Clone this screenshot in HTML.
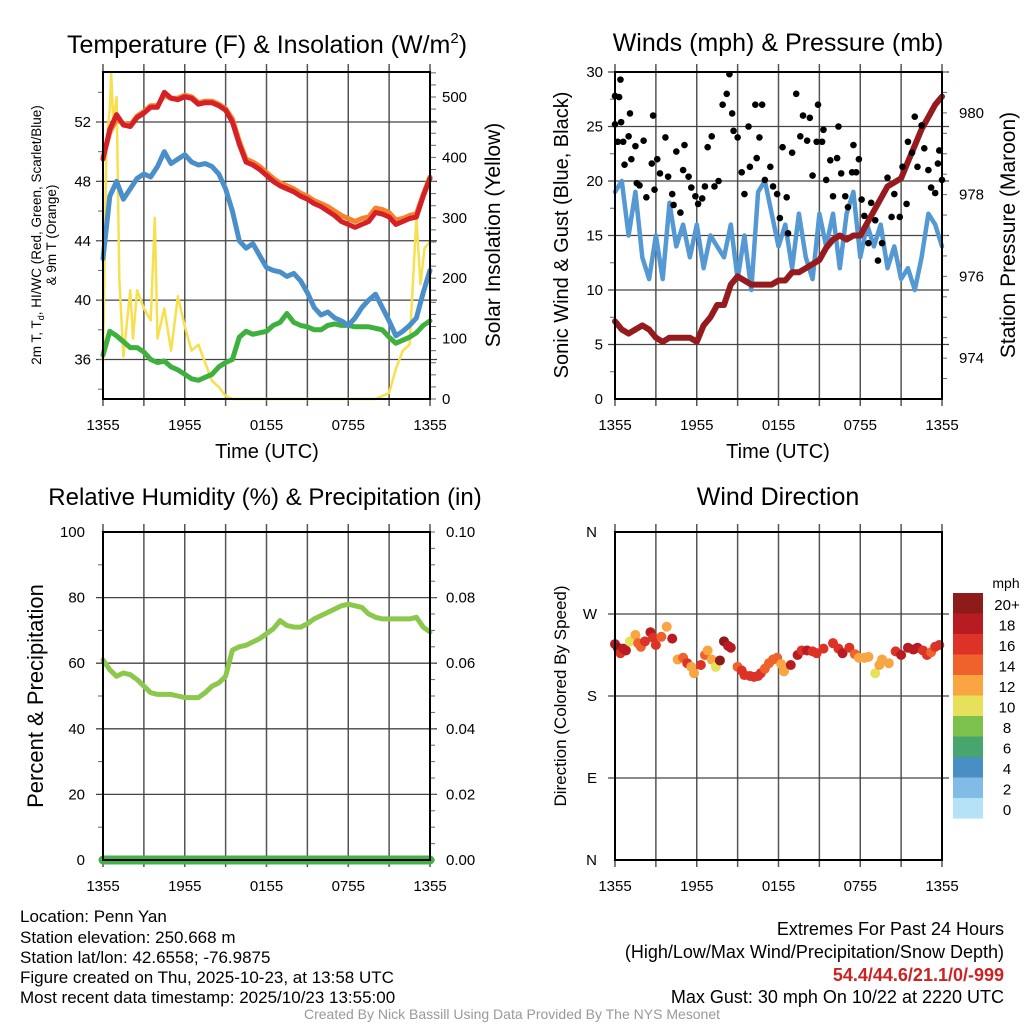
<!DOCTYPE html>
<html><head><meta charset="utf-8"><style>
html,body{margin:0;padding:0;background:#fff;}
svg{display:block;font-family:"Liberation Sans",sans-serif;}
</style></head><body>
<svg id="chart" width="1024" height="1024" viewBox="0 0 1024 1024" xmlns="http://www.w3.org/2000/svg">
<g id="titles" font-size="25" text-anchor="middle" fill="#000">
<text x="267" y="53">Temperature (F) &amp; Insolation (W/m<tspan font-size="15" dy="-10">2</tspan><tspan dy="10">)</tspan></text>
<text x="778" y="51">Winds (mph) &amp; Pressure (mb)</text>
<text x="265" y="505" font-size="24">Relative Humidity (%) &amp; Precipitation (in)</text>
<text x="778" y="505">Wind Direction</text>
</g>
<g id="layer"></g>
<g font-size="17" fill="#000">
<text x="20" y="922">Location: Penn Yan</text>
<text x="20" y="943">Station elevation: 250.668 m</text>
<text x="20" y="963">Station lat/lon: 42.6558; -76.9875</text>
<text x="20" y="983">Figure created on Thu, 2025-10-23, at 13:58 UTC</text>
<text x="20" y="1003">Most recent data timestamp: 2025/10/23 13:55:00</text>
</g>
<g font-size="18" fill="#000" text-anchor="end">
<text x="1004" y="935">Extremes For Past 24 Hours</text>
<text x="1004" y="958">(High/Low/Max Wind/Precipitation/Snow Depth)</text>
<text x="1004" y="981" fill="#cc2222" font-weight="bold">54.4/44.6/21.1/0/-999</text>
<text x="1004" y="1003">Max Gust: 30 mph On 10/22 at 2220 UTC</text>
</g>
<text x="512" y="1019" font-size="14" fill="#999" text-anchor="middle">Created By Nick Bassill Using Data Provided By The NYS Mesonet</text>
</svg>
<script>
// ---------- data ----------
const hours = [0,0.5,1,1.5,2,2.5,3,3.5,4,4.5,5,5.5,6,6.5,7,7.5,8,8.5,9,9.5,10,10.5,11,11.5,12,12.5,13,13.5,14,14.5,15,15.5,16,16.5,17,17.5,18,18.5,19,19.5,20,20.5,21,21.5,22,22.5,23,23.5,24];
const tempRed = [49.5,51.5,52.5,51.8,51.7,52.3,52.6,53.0,53.0,54.0,53.6,53.5,53.7,53.6,53.2,53.3,53.3,53.1,52.8,52.0,50.5,49.3,49.1,48.8,48.4,48.0,47.7,47.5,47.3,47.0,46.8,46.5,46.3,46.0,45.7,45.3,45.1,44.9,45.1,45.3,45.9,45.8,45.6,45.1,45.3,45.5,45.6,47.0,48.2];
const temp9m = [49.6,51.3,52.2,51.9,51.8,52.4,52.7,53.1,53.1,53.8,53.6,53.6,53.8,53.7,53.3,53.4,53.4,53.2,52.9,52.2,50.7,49.5,49.3,49.0,48.6,48.2,47.9,47.7,47.5,47.2,47.0,46.7,46.5,46.3,46.0,45.7,45.5,45.3,45.5,45.6,46.2,46.1,45.9,45.4,45.5,45.7,45.8,47.1,48.3];
const tempBlue = [42.8,47.0,48.0,46.8,47.5,48.2,48.5,48.3,49.0,50.0,49.2,49.5,49.8,49.3,49.1,49.2,49.0,48.5,47.5,46.0,44.0,43.5,43.8,43.0,42.2,42.0,41.9,41.6,41.8,41.3,40.5,39.5,39.0,39.2,38.8,38.6,38.3,38.8,39.5,40.0,40.4,39.5,38.6,37.6,37.9,38.3,38.8,40.5,42.0];
const dewGreen = [36.3,37.9,37.6,37.2,36.8,36.8,36.5,36.0,35.8,35.9,35.5,35.3,35.0,34.7,34.6,34.8,35.0,35.5,35.8,36.0,37.5,37.9,37.7,37.8,37.9,38.3,38.5,39.1,38.5,38.3,38.2,38.0,38.0,38.3,38.4,38.3,38.3,38.2,38.2,38.2,38.1,38.0,37.5,37.1,37.3,37.5,37.8,38.3,38.6];
const solarHours = [0,0.25,0.5,0.6,0.75,1,1.2,1.5,2,2.2,2.5,3,3.5,3.8,4,4.5,5,5.5,6,6.5,7,7.5,8,8.5,9,9.5,12,16,20,21,21.5,22,22.5,23,23.3,23.6,24];
const solarValues = [60,420,480,540,460,500,200,70,180,100,180,150,130,300,100,150,80,170,120,80,90,60,30,20,5,0,0,0,0,10,50,80,90,300,190,250,260];
const windBlue = [19,20,15,19,13,11,15,11,18,14,16,13,16,12,15,14,13,16,11,15,10,19,20,17,14,16,12,17,13,11,17,14,17,12,17,19,13,16,14,16,12,14,11,12,10,13,17,16,14];
const pressure = [974.9,974.7,974.6,974.7,974.8,974.7,974.5,974.4,974.5,974.5,974.5,974.5,974.4,974.8,975.0,975.3,975.3,975.8,976.0,975.9,975.8,975.8,975.8,975.8,975.9,975.9,976.1,976.1,976.2,976.3,976.4,976.7,976.9,977.0,976.9,977.0,977.0,977.3,977.6,977.9,978.2,978.3,978.4,978.8,979.2,979.6,979.9,980.2,980.4];
const gustHours = [0,0,0.4,0.3,0.2,0.45,0.7,0.6,1,1.1,1.2,1.5,1.6,1.8,2.1,2.3,2.7,2.8,2.9,3.1,3.3,3.7,3.9,4.2,4.3,4.5,4.8,5,5.1,5.4,5.6,5.9,6.1,6.4,6.6,6.8,7.1,7.3,7.6,7.9,8.2,8.4,8.6,8.7,9,9.3,9.5,9.8,9.9,10.3,10.4,10.6,10.8,11,11.4,11.6,11.9,12.1,12.3,12.6,12.7,13,13.3,13.6,13.8,14.1,14.3,14.5,14.8,14.9,15.2,15.3,15.5,15.8,16,16.3,16.4,16.6,16.9,17.1,17.4,17.5,17.7,17.9,18.1,18.3,18.6,18.8,19.1,19.3,19.6,20,20.3,20.5,20.9,21.1,21.4,21.5,21.8,22,22.2,22.5,22.7,23,23.2,23.5,23.7,23.8,24];
const gustValues = [25.2,27.8,29.3,27.7,23.6,25.4,21.5,23.6,24.1,26.2,22,23.2,19.8,19.6,23.7,18.5,21.6,26,19.2,22,20.7,24,20.4,18.8,17.8,22.7,17.1,21,23.3,20.4,19.4,18.6,17.9,18.4,19.5,23.1,24.1,19.5,20,27,28,29.8,26.2,24.6,24,20.8,18.8,25,21.3,27,22.1,24,27,20.1,21.3,19.5,18.8,16.6,23.1,18.5,15.2,22.6,28,24.1,26,23.7,25.8,20.5,23.6,27,23.6,24.7,20.1,21.9,18.6,22.1,25,20.7,18.6,17.6,20.8,23.3,20.8,22,18.3,16.8,14.3,18,16.4,12.7,14.3,20.3,16.7,18.8,16.7,21.3,17.9,23.6,22.6,25.9,21.3,25.1,23,21,19.4,18.9,21.6,22.8,20.1];
const rh = [61,58,56,57,56.5,55,53,51,50.5,50.5,50.5,50,49.5,49.5,49.5,51,53,54,56,64,65,65.5,66.5,67.5,69,70.5,73,71.5,71,71,72,73.5,74.5,75.5,76.5,77.5,78,77.5,77,75,74,73.5,73.5,73.5,73.5,73.5,74,71,69.5];
const precip = [0,0,0,0,0,0,0,0,0,0,0,0,0,0,0,0,0,0,0,0,0,0,0,0,0,0,0,0,0,0,0,0,0,0,0,0,0,0,0,0,0,0,0,0,0,0,0,0,0];
const dirHours = [0,0.2,0.4,0.6,0.8,1.1,1.5,1.7,1.9,2.2,2.6,2.8,3,3.4,3.8,4.2,4.6,5,5.3,5.6,5.8,6.3,6.6,6.8,7.1,7.4,7.7,8,8.3,8.5,9,9.3,9.5,9.9,10.2,10.5,10.7,11,11.3,11.6,11.9,12.2,12.4,12.9,13.4,13.7,14.1,14.5,14.8,15.3,16,16.4,16.7,17.2,17.6,17.9,18.3,18.6,19.1,19.4,19.6,20.1,20.6,21,21.5,21.9,22.2,22.6,22.9,23.2,23.5,23.8];
const dirValues = [237,233,227,232,230,240,247,238,234,240,250,244,236,245,256,243,220,222,216,212,205,214,225,230,220,212,219,240,235,233,212,208,203,202,201,202,205,210,216,220,222,215,207,214,225,230,230,229,227,232,238,232,227,233,226,222,222,223,205,214,220,216,229,225,233,231,233,230,225,228,234,236];
const dirSpeeds = [19,20,17,18,19,10,13,15,14,17,19,17,16,14,13,18,13,15,16,12,12,16,14,12,12,10,20,20,18,18,14,16,17,17,17,16,16,15,14,14,14,13,12,18,19,17,18,17,16,16,16,17,18,16,15,12,12,12,10,12,12,13,16,18,19,18,18,17,16,15,17,16];
const xTickLabels = ["1355","1955","0155","0755","1355"];
const tempTicks = [36,40,44,48,52];
const solarTicks = [0,100,200,300,400,500];
const windTicks = [0,5,10,15,20,25,30];
const pressTicks = [974,976,978,980];
const rhTicks = [0,20,40,60,80,100];
const precipTicks = ["0.00","0.02","0.04","0.06","0.08","0.10"];
const dirLabels = ["N","E","S","W","N"];
const cbLabels = ["20+","18","16","14","12","10","8","6","4","2","0"];
const cbColors = ["#8f1a1a","#b81c22","#dc3326","#f0622b","#f8a542","#e7e05b","#7dc14d","#47a66d","#4a8fc4","#80bce6","#b5e2f6"];

// ---------- helpers ----------
const NS="http://www.w3.org/2000/svg";
const layer=document.getElementById('layer');
function mk(tag,attrs,parent){const e=document.createElementNS(NS,tag);for(const k in attrs)e.setAttribute(k,attrs[k]);(parent||layer).appendChild(e);return e;}
function lin(d0,d1,r0,r1){return v=>r0+(v-d0)*(r1-r0)/(d1-d0);}
function txt(x,y,s,attrs,parent){const t=mk('text',Object.assign({x:x,y:y},attrs),parent);t.textContent=s;return t;}

const L=[103,430], R=[615,942];
const TOP=[72,399], BOT=[532,860];

function frame(px,py,grpName,hGrid){
  const g=mk('g',{});
  
  
  const x=lin(0,24,px[0],px[1]);
  for(let h=0;h<=24;h+=3){
    const l=mk('line',{x1:x(h),x2:x(h),y1:py[0]-8,y2:py[1]+7,stroke:'#555','stroke-width':1.5},g);
    
    
  }
  hGrid.forEach(yy=>{
    const l=mk('line',{x1:px[0]-7,x2:px[1]+7,y1:yy,y2:yy,stroke:'#444','stroke-width':1.3},g);
    
    
  });
  xTickLabels.forEach((s,i)=>{
    const t=txt(x(i*6),py[1]+31,s,{'font-size':15,'text-anchor':'middle'},g);
    
    
  });
  return {g,x};
}
function border(px,py,g){
  const r=mk('rect',{x:px[0],y:py[0],width:px[1]-px[0],height:py[1]-py[0],fill:'none',stroke:'#000','stroke-width':2},g);
  
  
}
function pathOf(xs,ys,fx,fy){return xs.map((h,i)=>(i?'L':'M')+fx(h).toFixed(1)+','+fy(ys[i]).toFixed(1)).join('');}
function line(d,color,w,name,g){
  const p=mk('path',{d:d,fill:'none',stroke:color,'stroke-width':w,'stroke-linejoin':'round','stroke-linecap':'round'},g);
  
  
  return p;
}
function minorTicks(side,px,vals,fy,len,g){
  vals.forEach(v=>{const yy=fy(v);const x0=side==='l'?px[0]:px[1];const dx=side==='l'?-len:len;
    const l=mk('line',{x1:x0,x2:x0+dx,y1:yy,y2:yy,stroke:'#666','stroke-width':1},g);
    
    });
}

// ---------- panel 1: temperature ----------
(function(){
  const yT=lin(36,52,359.5,122), yS=lin(0,500,399,97);
  const f=frame(L,TOP,'temperature-panel',tempTicks.map(yT));
  const g=f.g, x=f.x;
  const minT=[];for(let v=34;v<=54;v+=2)minT.push(v);
  minorTicks('l',L,minT.filter(v=>yT(v)>=TOP[0]&&yT(v)<=TOP[1]),yT,5,g);
  const minS=[];for(let v=0;v<=540;v+=20)minS.push(v);
  minorTicks('r',L,minS,yS,6,g);
  tempTicks.forEach(v=>{const t=txt(L[0]-12,yT(v)+5,String(v),{'font-size':15,'text-anchor':'end'},g);
    });
  solarTicks.forEach(v=>{const t=txt(L[1]+12,yS(v)+5,String(v),{'font-size':15},g);
    });
  line(pathOf(solarHours,solarValues,x,yS),'#f7e04f',2.5,'solar-insolation-line',g);
  line(pathOf(hours,dewGreen,x,yT),'#3db03d',5,'dewpoint-line',g);
  line(pathOf(hours,tempBlue,x,yT),'#4a8fc9',5,'heat-index-wind-chill-line',g);
  line(pathOf(hours,temp9m,x,yT),'#f5812a',5,'temp-9m-line',g);
  line(pathOf(hours,tempRed,x,yT),'#d62027',5,'temp-2m-line',g);
  border(L,TOP,g);
  const a=txt(0,0,'2m T, T',{'font-size':13.5,'text-anchor':'middle',transform:'translate(41,235) rotate(-90)'},g);
  const s1=mk('tspan',{'font-size':9,dy:3},a);s1.textContent='d';
  const s2=mk('tspan',{dy:-3},a);s2.textContent=', HI/WC (Red, Green, Scarlet/Blue)';
  
  const b=txt(0,0,'& 9m T (Orange)',{'font-size':13.5,'text-anchor':'middle',transform:'translate(56,235) rotate(-90)'},g);
  
  const c=txt(0,0,'Solar Insolation (Yellow)',{'font-size':21,'text-anchor':'middle',transform:'translate(500,235) rotate(-90)'},g);
  
  const d=txt(267,458,'Time (UTC)',{'font-size':20,'text-anchor':'middle'},g);
  
})();

// ---------- panel 2: winds ----------
(function(){
  const yW=lin(0,30,399,72), yP=lin(973,981,399,72);
  const f=frame(R,TOP,'winds-panel',windTicks.filter(v=>v>0).map(yW));
  const g=f.g, x=f.x;
  const minW=[];for(let v=2.5;v<30;v+=5)minW.push(v);
  minorTicks('l',R,minW,yW,5,g);
  const minP=[];for(let v=973.5;v<=981;v+=0.5)minP.push(v);
  minorTicks('r',R,minP,yP,5,g);
  windTicks.forEach(v=>{const t=txt(R[0]-12,yW(v)+5,String(v),{'font-size':15,'text-anchor':'end'},g);
    });
  pressTicks.forEach(v=>{const t=txt(R[1]+17,yP(v)+5,String(v),{'font-size':15},g);
    });
  line(pathOf(hours,windBlue,x,yW),'#5499d3',4.5,'sonic-wind-line',g);
  line(pathOf(hours,pressure,x,yP),'#961b1e',6,'station-pressure-line',g);
  gustHours.forEach((h,i)=>{
    const c=mk('circle',{cx:x(h),cy:yW(gustValues[i]),r:3.3,fill:'#000'},g);
    
    
  });
  border(R,TOP,g);
  const a=txt(0,0,'Sonic Wind & Gust (Blue, Black)',{'font-size':20,'text-anchor':'middle',transform:'translate(568,235) rotate(-90)'},g);
  
  const b=txt(0,0,'Station Pressure (Maroon)',{'font-size':21,'text-anchor':'middle',transform:'translate(1015,235) rotate(-90)'},g);
  
  const d=txt(778,458,'Time (UTC)',{'font-size':20,'text-anchor':'middle'},g);
  
})();

// ---------- panel 3: humidity ----------
(function(){
  const yR=lin(0,100,860,532), yPr=lin(0,0.1,860,532);
  const f=frame(L,BOT,'humidity-panel',[20,40,60,80].map(yR));
  const g=f.g, x=f.x;
  minorTicks('l',L,[10,30,50,70,90],yR,5,g);
  const mp=[];for(let v=0;v<=100;v+=5)mp.push(v);
  minorTicks('r',L,mp,yR,5,g);
  rhTicks.forEach(v=>{const t=txt(L[0]-18,yR(v)+5,String(v),{'font-size':15,'text-anchor':'end'},g);
    });
  precipTicks.forEach(s=>{const t=txt(L[1]+16,yPr(parseFloat(s))+5,s,{'font-size':15},g);
    });
  mk('line',{x1:L[0],x2:L[1],y1:532,y2:532,stroke:'#000','stroke-width':1.3},g);
  line(pathOf(hours,rh,x,yR),'#8cc84b',5,'relative-humidity-line',g);
  line(pathOf(hours,precip,x,yPr),'#44b04a',9,'precipitation-line',g);
  border(L,BOT,g);
  const a=txt(0,0,'Percent & Precipitation',{'font-size':22,'text-anchor':'middle',transform:'translate(43,696) rotate(-90)'},g);
  
})();

// ---------- panel 4: wind direction ----------
(function(){
  const yD=lin(0,360,860,532);
  const f=frame(R,BOT,'wind-direction-panel',[90,180,270].map(yD));
  const g=f.g, x=f.x;
  dirLabels.forEach((s,i)=>{const t=txt(R[0]-18,yD(i*90)+5,s,{'font-size':15,'text-anchor':'end'},g);
    });
  dirHours.forEach((h,i)=>{
    const sp=dirSpeeds[i];
    const idx=sp>=20?0:10-Math.floor(sp/2);
    const c=mk('circle',{cx:x(h),cy:yD(dirValues[i]),r:5,fill:cbColors[Math.max(0,Math.min(10,idx))]},g);
    
    
  });
  border(R,BOT,g);
  const a=txt(0,0,'Direction (Colored By Speed)',{'font-size':17,'text-anchor':'middle',transform:'translate(566,696) rotate(-90)'},g);
  
  const cb=mk('g',{},g);
  
  
  const unit=txt(1006,588,'mph',{'font-size':14,'text-anchor':'middle'},cb);
  
  cbLabels.forEach((s,i)=>{
    const r=mk('rect',{x:953,y:593+i*20.5,width:30,height:20.6,fill:cbColors[i]},cb);
    
    
    const t=txt(1007,593+i*20.5+17,s,{'font-size':15,'text-anchor':'middle'},cb);
    
    
  });
})();
</script>
</body></html>
